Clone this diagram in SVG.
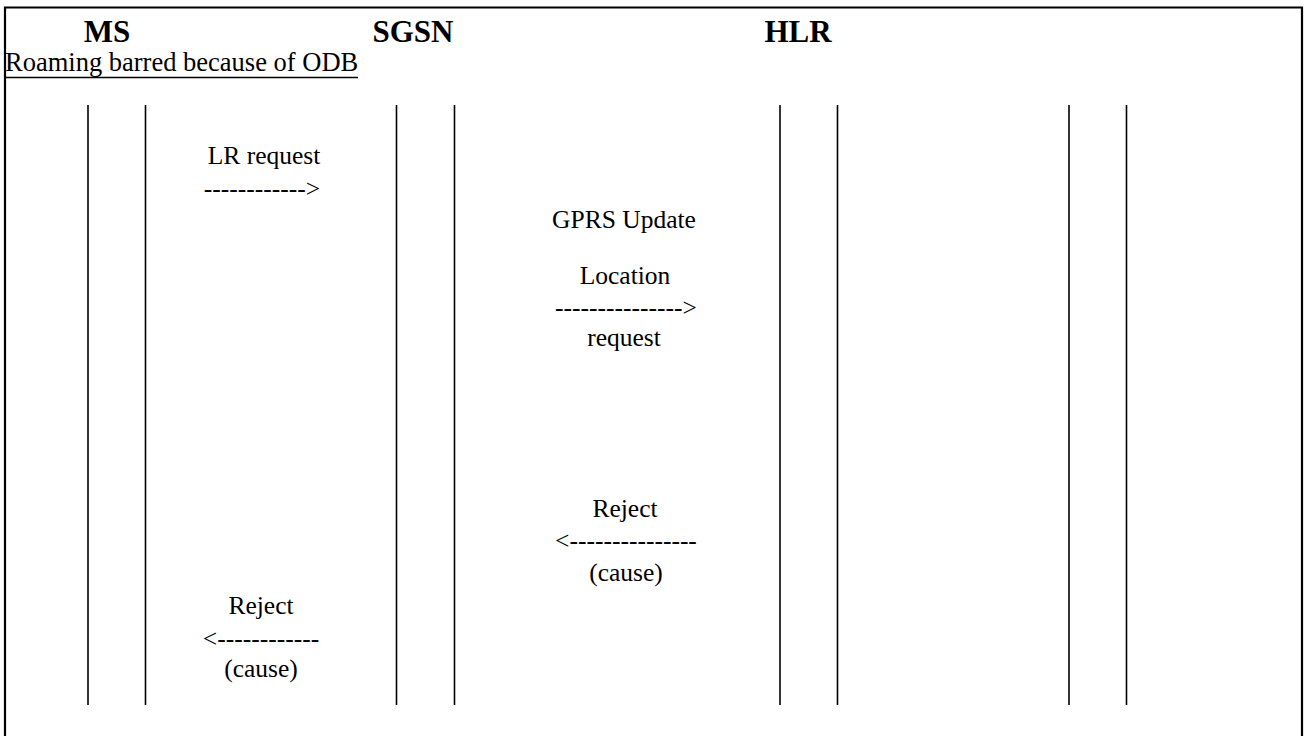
<svg xmlns="http://www.w3.org/2000/svg" width="1304" height="736" viewBox="0 0 1304 736">
<style>
.hdr{font-family:"Liberation Serif","Times New Roman",serif;font-weight:bold;font-size:31px;fill:#000}
.t{font-family:"Liberation Serif","Times New Roman",serif;font-size:25.5px;fill:#000;text-anchor:middle}
.note{font-family:"Liberation Serif","Times New Roman",serif;font-size:26.5px;fill:#000}
.life{stroke:#000;stroke-width:1.6;fill:none}
.frame{stroke:#000;stroke-width:2.2;fill:none}
</style>
<rect width="1304" height="736" fill="#fff"/>
<path class="frame" d="M5,737 V7.5 H1302 V737"/>
<g id="MS">
<text class="hdr" x="107" y="42" text-anchor="middle">MS</text>
<line class="life" x1="88" y1="105" x2="88" y2="705"/>
<line class="life" x1="145.5" y1="105" x2="145.5" y2="705"/>
</g>
<g id="SGSN">
<text class="hdr" x="413" y="42" text-anchor="middle">SGSN</text>
<line class="life" x1="396.5" y1="105" x2="396.5" y2="705"/>
<line class="life" x1="454.5" y1="105" x2="454.5" y2="705"/>
</g>
<g id="HLR">
<text class="hdr" x="798" y="42" text-anchor="middle">HLR</text>
<line class="life" x1="780" y1="105" x2="780" y2="705"/>
<line class="life" x1="837.5" y1="105" x2="837.5" y2="705"/>
</g>
<g id="extra">
<line class="life" x1="1069" y1="105" x2="1069" y2="705"/>
<line class="life" x1="1126.5" y1="105" x2="1126.5" y2="705"/>
</g>
<g id="note">
<text class="note" x="5" y="71">Roaming barred because of ODB</text>
<line x1="5" y1="77.5" x2="358" y2="77.5" stroke="#000" stroke-width="1.6"/>
</g>
<g id="connectors">
<text class="t" x="264" y="164">LR request</text>
<text class="t" x="262" y="197">------------&gt;</text>
<text class="t" x="624" y="228">GPRS Update</text>
<text class="t" x="625" y="284">Location</text>
<text class="t" x="626" y="316">---------------&gt;</text>
<text class="t" x="624" y="346">request</text>
<text class="t" x="625" y="517">Reject</text>
<text class="t" x="626" y="549">&lt;---------------</text>
<text class="t" x="626" y="581">(cause)</text>
<text class="t" x="261" y="614">Reject</text>
<text class="t" x="261" y="647">&lt;------------</text>
<text class="t" x="261" y="677">(cause)</text>
</g>
</svg>
